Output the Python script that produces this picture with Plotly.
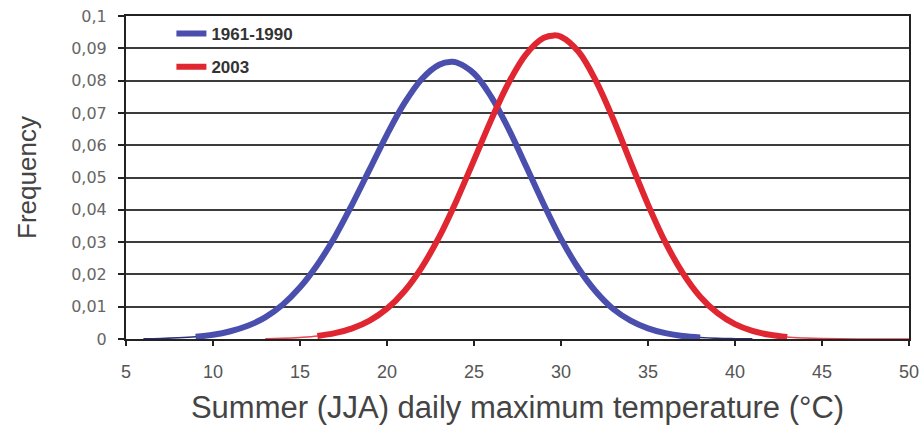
import plotly.graph_objects as go

# ---- data ----
temp_1961_1990 = [6, 7, 8, 9, 10, 11, 12, 13, 14, 15, 16, 17, 18, 19, 20, 21, 22, 23, 23.7,
                  24, 25, 26, 27, 28, 29, 30, 31, 32, 33, 34, 35, 36, 37, 38, 39, 40, 41]
freq_1961_1990 = [0.00008, 0.00017, 0.00036, 0.0007, 0.0013, 0.0024, 0.0041, 0.0067, 0.0106,
                  0.0160, 0.0230, 0.0316, 0.0417, 0.0525, 0.0633, 0.0730, 0.0805, 0.0849, 0.0858,
                  0.0856, 0.0822, 0.0749, 0.0649, 0.0534, 0.0418, 0.0310, 0.0219, 0.0147, 0.0093,
                  0.0057, 0.0033, 0.0018, 0.0009, 0.00045, 0.0002, 0.0001, 0.00004]

temp_2003 = [13, 14, 15, 16, 17, 18, 19, 20, 21, 22, 23, 24, 25, 26, 27, 28, 29, 29.6,
             30, 31, 32, 33, 34, 35, 36, 37, 38, 39, 40, 41, 42, 43, 44, 45, 46, 47, 48, 49, 50]
freq_2003 = [0.0001, 0.0002, 0.00046, 0.0009, 0.0018, 0.0033, 0.0057, 0.0094, 0.0148, 0.0222,
             0.0316, 0.0429, 0.0554, 0.0680, 0.0794, 0.0882, 0.0932, 0.0940,
             0.0936, 0.0890, 0.0800, 0.0681, 0.0547, 0.0416, 0.0299, 0.0204, 0.0131, 0.0080,
             0.0046, 0.0025, 0.0013, 0.0006, 0.0003, 0.00013, 0.00005, 0.00002, 0.00001, 0, 0]

series_names = ["1961-1990", "2003"]

x_ticks = [5, 10, 15, 20, 25, 30, 35, 40, 45, 50]
y_tick_vals = [0, 0.01, 0.02, 0.03, 0.04, 0.05, 0.06, 0.07, 0.08, 0.09, 0.1]
y_tick_text = ["0", "0,01", "0,02", "0,03", "0,04", "0,05", "0,06", "0,07", "0,08", "0,09", "0,1"]

x_title = "Summer (JJA) daily maximum temperature (°C)"
y_title = "Frequency"

# ---- style ----
BLUE = "#4a4fae"
RED = "#e02630"
thick_span = {"1961-1990": (9, 38.3), "2003": (16, 43.3)}


def clip(xs, ys, lo, hi):
    pts = [(x, y) for x, y in zip(xs, ys) if lo <= x <= hi]
    return [p[0] for p in pts], [p[1] for p in pts]


fig = go.Figure()
for name, xs, ys, col, thin_col in [
    (series_names[0], temp_1961_1990, freq_1961_1990, BLUE, "#2a2f7a"),
    (series_names[1], temp_2003, freq_2003, RED, "#e84850"),
]:
    fig.add_trace(go.Scatter(x=xs, y=ys, mode="lines", line=dict(color=thin_col, width=1.5, shape="spline"),
                             showlegend=False, hoverinfo="skip"))
    tx, ty = clip(xs, ys, *thick_span[name])
    fig.add_trace(go.Scatter(x=tx, y=ty, mode="lines", name=name, legendgroup=name,
                             line=dict(color=col, width=6, shape="spline")))

fig.update_layout(
    width=920, height=426,
    margin=dict(l=126, r=11, t=16, b=87),
    paper_bgcolor="white", plot_bgcolor="white",
    font=dict(family="Liberation Sans, Arial, sans-serif", color="#444"),
    legend=dict(x=0.058, y=1.0, xanchor="left", yanchor="top",
                bgcolor="rgba(0,0,0,0)", tracegroupgap=8,
                font=dict(family="Liberation Sans, Arial, sans-serif", size=17, color="#333", weight="bold")),
    showlegend=True,
)
fig.update_xaxes(
    range=[5, 50], tickvals=x_ticks, ticktext=[str(v) for v in x_ticks],
    showgrid=False, zeroline=False, automargin=False,
    showline=True, linecolor="#222", linewidth=2, mirror=True,
    ticks="outside", ticklen=5, tickwidth=1.5, tickcolor="#222", ticklabelstandoff=10,
    tickfont=dict(size=18, color="#555"), ticklabeloverflow="allow",
    title=dict(text=x_title, font=dict(size=31, color="#444"), standoff=16),
)
fig.update_yaxes(
    range=[0, 0.1], tickvals=y_tick_vals, ticktext=y_tick_text,
    showgrid=True, gridcolor="#3c3c3c", gridwidth=2, zeroline=False, automargin=False,
    showline=True, linecolor="#222", linewidth=2, mirror=True,
    ticks="outside", ticklen=6, tickwidth=1.5, tickcolor="#222", ticklabelstandoff=8,
    tickfont=dict(family="DejaVu Sans, sans-serif", size=16, color="#666"), ticklabeloverflow="allow",
    title=dict(text=y_title, font=dict(size=26, color="#444"), standoff=27),
)

# remove the browser's default 8px page margin so the figure sits at the window's corner
fig.write_html("out.html", config={"displayModeBar": False},
               post_script="document.body.style.margin='0px';")
